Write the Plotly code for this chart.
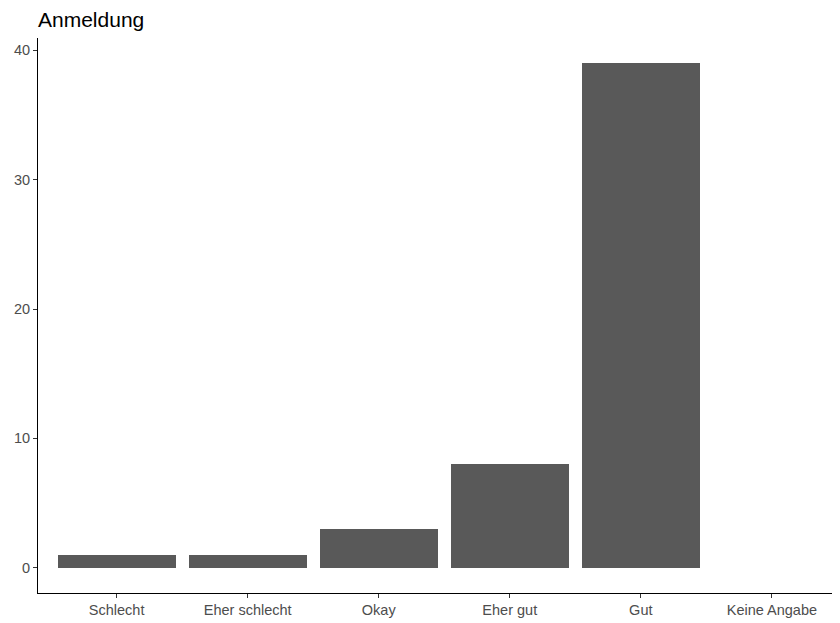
import plotly.graph_objects as go

categories = ["Schlecht", "Eher schlecht", "Okay", "Eher gut", "Gut", "Keine Angabe"]
counts = [1, 1, 3, 8, 39, 0]
y_ticks = [0, 10, 20, 30, 40]

# the page body has an 8px margin; compensate so the plot lands where the reference has it
OFF = 8

fig = go.Figure(go.Bar(
    x=list(range(len(categories))),
    y=counts,
    width=0.9,
    marker=dict(color="#595959", line=dict(width=0)),
))

fig.update_layout(
    width=840, height=623,
    margin=dict(l=38 - OFF, r=OFF, t=38 - OFF, b=623 - 592.7 + OFF, autoexpand=False),
    paper_bgcolor="white", plot_bgcolor="white",
    font=dict(family="Liberation Sans, Arial, sans-serif"),
    title=dict(text="Anmeldung", x=(38 - OFF) / 840, xanchor="left",
               xref="container", yref="container",
               y=1 - (20 - OFF) / 623, yanchor="middle",
               font=dict(size=21, color="black")),
    showlegend=False,
    bargap=0,
)

fig.update_xaxes(
    range=[-0.6, 5.52],
    tickmode="array", tickvals=list(range(len(categories))), ticktext=categories,
    showgrid=False, zeroline=False,
    showline=True, linecolor="black", linewidth=1,
    ticks="outside", ticklen=4, tickcolor="#333333", tickwidth=1,
    tickfont=dict(size=14.5, color="#4d4d4d"),
)
fig.update_yaxes(
    range=[-1.95, 40.95],
    tickmode="array", tickvals=y_ticks, ticktext=[str(v) for v in y_ticks],
    showgrid=False, zeroline=False,
    showline=True, linecolor="black", linewidth=1,
    ticks="outside", ticklen=4, tickcolor="#333333", tickwidth=1,
    tickfont=dict(size=14.5, color="#4d4d4d"),
)

fig.write_html("out.html")
